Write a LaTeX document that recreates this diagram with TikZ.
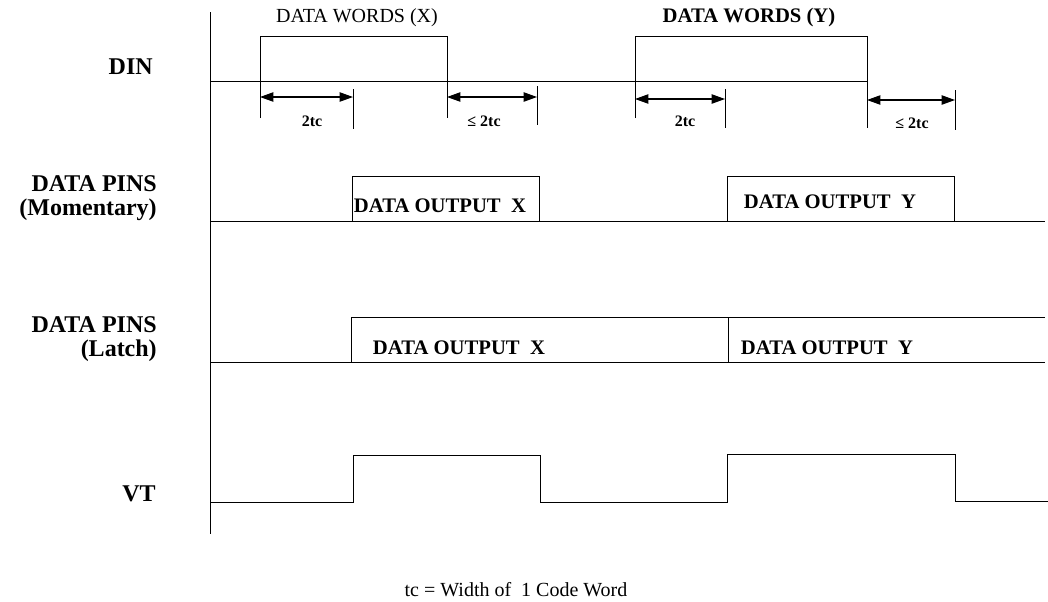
\documentclass[tikz,border=0pt]{standalone}
\usepackage{fontspec}
\setmainfont{Liberation Serif}
\usetikzlibrary{arrows.meta}
\usetikzlibrary{positioning}
\tikzset{wave/.style = {line width = 0.7pt}}
\tikzset{dimline/.style = {{Triangle[length=10pt,width=7pt]}-{Triangle[length=10pt,width=7pt]}, line width = 0.8pt}}
\tikzset{siglabel/.style = {font = \fontsize{18}{18}\selectfont\bfseries, align = right, anchor = east, inner sep = 0}}
\tikzset{outlabel/.style = {font = \fontsize{15.5}{18}\selectfont\bfseries}}
\tikzset{wordlabel/.style = {font = \fontsize{15}{18}\selectfont}}
\tikzset{dimlabel/.style = {font = \fontsize{12}{14}\selectfont\bfseries}}

\begin{document}
\begin{tikzpicture}[x=0.75pt, y=-0.75pt]
    \useasboundingbox (0, 0) rectangle (1048, 601);

    \draw[wave] (210, 12) -- (210, 534);

    \node[siglabel] (din) at (153, 67) {DIN};
    \node[siglabel] (pinsm) at (157, 198) {DATA PINS\\(Momentary)};
    \node[siglabel] (pinsl) at (157, 339) {DATA PINS\\(Latch)};
    \node[siglabel] (vt) at (156, 494) {VT};

    \draw[wave] (210, 81) -- (867, 81);
    \draw[wave] (260, 118) -- (260, 36) -- (447, 36) -- (447, 118);
    \draw[wave] (635, 118) -- (635, 36) -- (867, 36) -- (867, 128);
    \node[wordlabel] (wordsx) at (357, 18) {DATA WORDS (X)};
    \node[outlabel] (wordsy) at (749, 18) {DATA WORDS (Y)};

    \draw[wave] (353, 89) -- (353, 129);
    \draw[wave] (537, 86) -- (537, 125);
    \draw[wave] (725, 89) -- (725, 128);
    \draw[wave] (955, 90) -- (955, 130);

    \coordinate (a1) at (260, 97);
    \coordinate (b1) at (353, 97);
    \coordinate (a2) at (447, 97);
    \coordinate (b2) at (537, 97);
    \coordinate (a3) at (635, 99);
    \coordinate (b3) at (725, 99);
    \coordinate (a4) at (867, 100);
    \coordinate (b4) at (955, 100);
    \draw[dimline] (a1) -- (b1);
    \draw[dimline] (a2) -- (b2);
    \draw[dimline] (a3) -- (b3);
    \draw[dimline] (a4) -- (b4);
    \node[dimlabel] (tc1) at (312, 121) {2tc};
    \node[dimlabel] (tc2) at (484, 121) {≤ 2tc};
    \node[dimlabel] (tc3) at (685, 121) {2tc};
    \node[dimlabel] (tc4) at (912, 123) {≤ 2tc};

    \draw[wave] (210, 221) -- (1045, 221);
    \draw[wave] (352, 221) -- (352, 176) -- (539, 176) -- (539, 221);
    \draw[wave] (727, 221) -- (727, 176) -- (954, 176) -- (954, 221);
    \node[outlabel] (outmx) at (440, 206) {DATA OUTPUT \ X};
    \node[outlabel] (outmy) at (830, 202) {DATA OUTPUT \ Y};

    \draw[wave] (210, 362) -- (1045, 362);
    \draw[wave] (351, 362) -- (351, 317) -- (1045, 317);
    \draw[wave] (728, 317) -- (728, 362);
    \node[outlabel] (outlx) at (459, 348) {DATA OUTPUT \ X};
    \node[outlabel] (outly) at (827, 348) {DATA OUTPUT \ Y};

    \draw[wave] (210, 502) -- (353, 502) -- (353, 455) -- (540, 455) -- (540, 502)
        -- (727, 502) -- (727, 454) -- (955, 454) -- (955, 501) -- (1048, 501);

    \node[wordlabel] (note) at (516, 590) {tc = Width of \ 1 Code Word};
  \end{tikzpicture}
\end{document}
